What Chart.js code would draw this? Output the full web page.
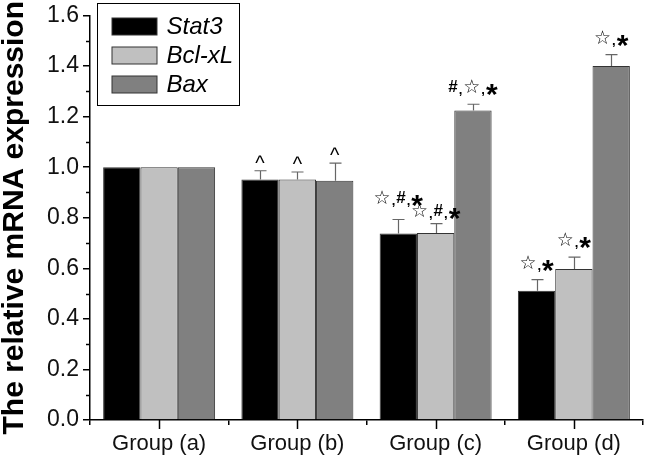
<!DOCTYPE html>
<html>
<head>
<meta charset="utf-8">
<style>
  html, body { margin: 0; padding: 0; background: #fff; }
  #wrap { width: 645px; height: 458px; }
</style>
<script src="https://cdn.jsdelivr.net/npm/chart.js@4.4.1/dist/chart.umd.min.js"></script>
</head>
<body>
<div id="wrap"><canvas id="chart"></canvas></div>
<script>
const categories = ['Group (a)', 'Group (b)', 'Group (c)', 'Group (d)'];
const seriesNames = ['Stat3', 'Bcl-xL', 'Bax'];

const stat3 = [1.0, 0.951, 0.738, 0.511];
const bclxl = [1.0, 0.951, 0.740, 0.597];
const bax = [1.0, 0.946, 1.224, 1.400];

// upward error (SD)
const stat3Err = [0, 0.035, 0.055, 0.044];
const bclxlErr = [0, 0.030, 0.037, 0.047];
const baxErr = [0, 0.070, 0.025, 0.045];

// significance marks above each bar
const stat3Marks = ['', '^', '☆,#,*', '☆,*'];
const bclxlMarks = ['', '^', '☆,#,*', '☆,*'];
const baxMarks = ['', '^', '#,☆,*', '☆,*'];

const yTicks = [0, 0.2, 0.4, 0.6, 0.8, 1.0, 1.2, 1.4, 1.6];

const colors = ['#000000', '#c0c0c0', '#808080'];
const errors = [stat3Err, bclxlErr, baxErr];
const marks = [stat3Marks, bclxlMarks, baxMarks];
// how far (px) the mark baseline sits above the error cap
const markLift = [[0, 1, 17, 12], [0, 1, 8, 12], [0, 1, 12, 12]];

const glyphStyle = {
  '☆': { font: '19px "DejaVu Sans"', dy: 1 },
  '#': { font: 'bold 17px "Liberation Sans"', dy: 0 },
  ',': { font: 'bold 13px "Liberation Sans"', dy: 2 },
  '*': { font: 'bold 30px "Liberation Sans"', dy: 12 },
  '^': { font: '20px "Liberation Sans"', dy: 0 }
};

function drawMark(ctx, text, cx, baseY) {
  const parts = [...text];
  const gap = 1;
  let total = 0;
  const widths = parts.map(ch => {
    ctx.font = glyphStyle[ch].font;
    const w = ctx.measureText(ch).width;
    total += w;
    return w;
  });
  total += gap * (parts.length - 1);
  let x = cx - total / 2;
  ctx.textAlign = 'left';
  ctx.textBaseline = 'alphabetic';
  parts.forEach((ch, i) => {
    ctx.font = glyphStyle[ch].font;
    ctx.fillText(ch, x, baseY + glyphStyle[ch].dy);
    x += widths[i] + gap;
  });
}

const extras = {
  id: 'extras',
  afterDraw(chart) {
    const ctx = chart.ctx;
    const xs = chart.scales.x;
    const ys = chart.scales.y;
    const area = chart.chartArea;
    ctx.save();

    // minor y ticks
    ctx.strokeStyle = '#000';
    ctx.lineWidth = 1.5;
    for (let i = 0; i < yTicks.length - 1; i++) {
      const v = (yTicks[i] + yTicks[i + 1]) / 2;
      const py = Math.round(ys.getPixelForValue(v)) + 0.5;
      ctx.beginPath();
      ctx.moveTo(area.left - 4, py);
      ctx.lineTo(area.left, py);
      ctx.stroke();
    }

    // x ticks at category centres
    categories.forEach((c, i) => {
      const px = Math.round(xs.getPixelForValue(i)) + 0.5;
      ctx.beginPath();
      ctx.moveTo(px, area.bottom);
      ctx.lineTo(px, area.bottom + 9);
      ctx.stroke();
    });

    // error bars and marks
    chart.data.datasets.forEach((ds, di) => {
      const meta = chart.getDatasetMeta(di);
      meta.data.forEach((bar, i) => {
        const err = errors[di][i];
        const topVal = ds.data[i] + err;
        const yTop = ys.getPixelForValue(topVal);
        const bx = Math.round(bar.x) + 0.5;
        if (err > 0) {
          ctx.strokeStyle = '#666';
          ctx.lineWidth = 1.2;
          ctx.beginPath();
          ctx.moveTo(bx, bar.y);
          ctx.lineTo(bx, yTop);
          ctx.moveTo(bx - 6, yTop);
          ctx.lineTo(bx + 6, yTop);
          ctx.stroke();
        }
        const m = marks[di][i];
        if (m) {
          ctx.fillStyle = '#000';
          drawMark(ctx, m, bar.x, yTop - markLift[di][i]);
        }
      });
    });

    // legend box
    const lx = area.left + 7.5, ly = 3.5;
    ctx.strokeStyle = '#000';
    ctx.lineWidth = 1;
    ctx.strokeRect(lx, ly, 142, 102);
    seriesNames.forEach((name, i) => {
      const rowY = 26.5 + i * 29;
      ctx.fillStyle = colors[i];
      ctx.fillRect(lx + 14.5, rowY - 8.5, 45, 17);
      ctx.strokeStyle = '#333';
      ctx.strokeRect(lx + 14.5, rowY - 8.5, 45, 17);
      ctx.fillStyle = '#000';
      ctx.font = 'italic 24px "Liberation Sans"';
      ctx.textAlign = 'left';
      ctx.textBaseline = 'middle';
      ctx.fillText(name, lx + 69, rowY + 1);
    });

    ctx.restore();
  }
};

new Chart(document.getElementById('chart'), {
  type: 'bar',
  data: {
    labels: categories,
    datasets: [
      { label: seriesNames[0], data: stat3, backgroundColor: colors[0] },
      { label: seriesNames[1], data: bclxl, backgroundColor: colors[1] },
      { label: seriesNames[2], data: bax, backgroundColor: colors[2] }
    ].map(d => Object.assign(d, {
      borderColor: '#333',
      borderWidth: 1,
      borderSkipped: 'bottom',
      barPercentage: 1.0,
      categoryPercentage: 0.81
    }))
  },
  options: {
    responsive: true,
    maintainAspectRatio: false,
    animation: false,
    layout: { padding: { top: 11, right: 2, left: 0, bottom: 0 } },
    plugins: {
      legend: { display: false },
      tooltip: { enabled: false }
    },
    scales: {
      x: {
        afterFit: s => { s.height = 38; },
        grid: { display: true, offset: true, drawOnChartArea: false, tickLength: 5, color: '#000', lineWidth: 1.5 },
        border: { display: true, color: '#000', width: 1.5 },
        ticks: { color: '#111', padding: 6, font: { size: 22, family: '"Liberation Sans"' } }
      },
      y: {
        min: 0,
        max: 1.6,
        afterFit: s => { s.width = 90; },
        afterBuildTicks: s => { s.ticks = yTicks.map(v => ({ value: v })); },
        grid: { display: true, drawOnChartArea: false, tickLength: 7, color: '#000', lineWidth: 1.5 },
        border: { display: true, color: '#000', width: 1.5 },
        ticks: {
          color: '#111',
          padding: 4,
          font: { size: 23, family: '"Liberation Sans"', lineHeight: 1 },
          callback: v => Number(v).toFixed(1)
        },
        title: {
          display: true,
          text: 'The relative mRNA expression',
          color: '#000',
          padding: 0,
          font: { size: 30, weight: 'bold', family: '"Liberation Sans"', lineHeight: 1 }
        }
      }
    }
  },
  plugins: [extras]
});
</script>
</body>
</html>
